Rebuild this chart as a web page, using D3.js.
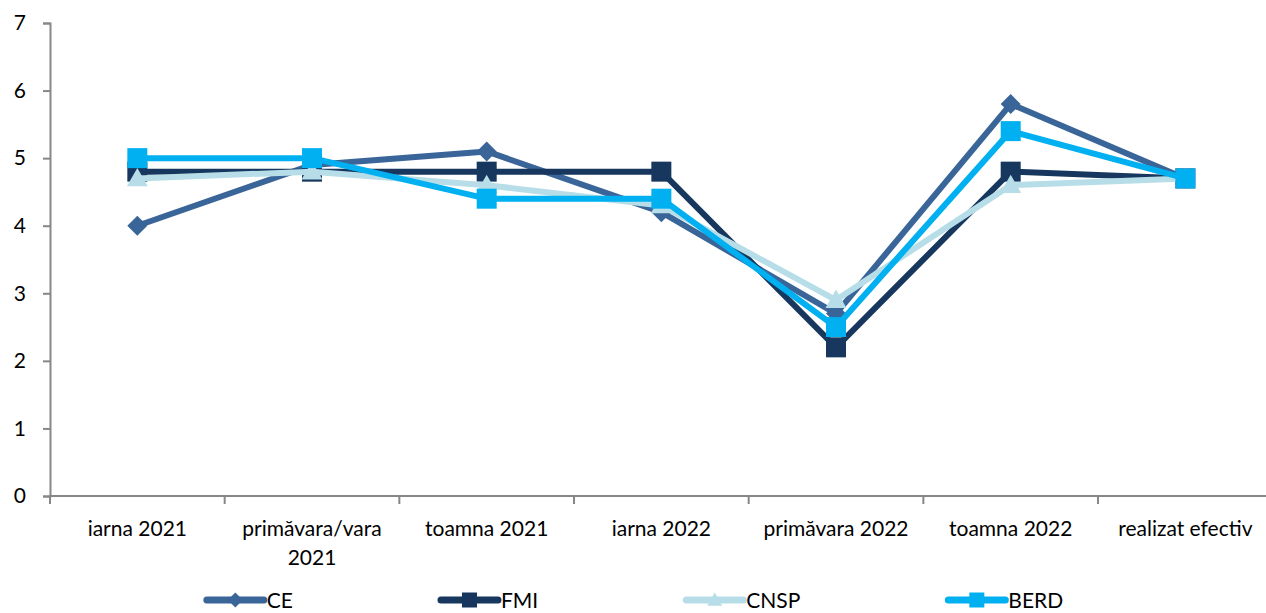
<!DOCTYPE html>
<html>
<head>
<meta charset="utf-8">
<script src="https://cdn.jsdelivr.net/npm/d3@7"></script>
<style>
  html, body { margin: 0; padding: 0; background: #fff; }
  svg { display: block; font-family: Lato, "Open Sans", sans-serif; }
</style>
</head>
<body>
<svg id="chart" width="1266" height="613"></svg>
<script>
// Forecast rounds (categories) and the value each institution gave in that round
const categories = ["iarna 2021", "primăvara/vara 2021", "toamna 2021", "iarna 2022", "primăvara 2022", "toamna 2022", "realizat efectiv"];
const seriesNames = ["CE", "FMI", "CNSP", "BERD"];
const ceValues   = [4.0, 4.9, 5.1, 4.2, 2.7, 5.8, 4.7];
const fmiValues  = [4.8, 4.8, 4.8, 4.8, 2.2, 4.8, 4.7];
const cnspValues = [4.7, 4.8, 4.6, 4.3, 2.9, 4.6, 4.7];
const berdValues = [5.0, 5.0, 4.4, 4.4, 2.5, 5.4, 4.7];
const yTicks = [0, 1, 2, 3, 4, 5, 6, 7];

const series = [
  { name: seriesNames[0], values: ceValues,   color: "#3A6599", marker: "diamond" },
  { name: seriesNames[1], values: fmiValues,  color: "#17375E", marker: "square" },
  { name: seriesNames[2], values: cnspValues, color: "#B7DEE8", marker: "triangle" },
  { name: seriesNames[3], values: berdValues, color: "#00B0F0", marker: "square" }
];

const svg = d3.select("#chart");
const axisColor = "#878787";
const fontSize = 21;

const x = d3.scaleBand().domain(categories).range([50, 1272.7]).paddingInner(0).paddingOuter(0);
const y = d3.scaleLinear().domain([0, 7]).range([496, 23]);
const cx = d => x(d) + x.bandwidth() / 2;

// Y axis
const yAxis = svg.append("g").attr("transform", "translate(50,0)")
  .call(d3.axisLeft(y).tickValues(yTicks).tickSize(7).tickPadding(17).tickFormat(d3.format("d")));
yAxis.select(".domain").attr("stroke", axisColor).attr("stroke-width", 2);
yAxis.selectAll(".tick line").attr("stroke", axisColor).attr("stroke-width", 2);
yAxis.selectAll(".tick text").attr("font-size", fontSize).attr("fill", "#000")
  .attr("font-family", "Lato, sans-serif");

// X axis: ticks sit on category boundaries
const boundaries = categories.map(c => x(c));
const xAxis = svg.append("g");
xAxis.append("line").attr("x1", 49).attr("x2", 1266).attr("y1", y(0)).attr("y2", y(0))
  .attr("stroke", axisColor).attr("stroke-width", 2);
xAxis.selectAll("line.tk").data(boundaries).join("line").attr("class", "tk")
  .attr("x1", d => d).attr("x2", d => d).attr("y1", y(0)).attr("y2", y(0) + 8)
  .attr("stroke", axisColor).attr("stroke-width", 2);

// Category labels, wrapped to the band width
const labels = xAxis.selectAll("text.cat").data(categories).join("text").attr("class", "cat")
  .attr("x", d => cx(d)).attr("y", 536).attr("text-anchor", "middle")
  .attr("font-size", fontSize).attr("fill", "#000");
labels.each(function(d) {
  const t = d3.select(this);
  const words = d.split(" ");
  const maxW = x.bandwidth() - 8;
  let line = [];
  let tspan = t.append("tspan").attr("x", cx(d)).attr("dy", 0);
  words.forEach(w => {
    line.push(w);
    tspan.text(line.join(" "));
    if (tspan.node().getComputedTextLength() > maxW && line.length > 1) {
      line.pop();
      tspan.text(line.join(" "));
      line = [w];
      tspan = t.append("tspan").attr("x", cx(d)).attr("dy", 29).text(w);
    }
  });
});

// Marker shapes
function markerPath(type, size) {
  const h = size / 2;
  if (type === "diamond") return `M0,${-h}L${h},0L0,${h}L${-h},0Z`;
  if (type === "square") return `M${-h},${-h}H${h}V${h}H${-h}Z`;
  if (type === "triangle") return `M0,${-h}L${h},${h * 0.75}L${-h},${h * 0.75}Z`;
  return "";
}

const line = d3.line().x((d, i) => cx(categories[i])).y(d => y(d));

// Each series: its line, then its markers
series.forEach(s => {
  const g = svg.append("g");
  g.append("path").datum(s.values).attr("d", line)
    .attr("fill", "none").attr("stroke", s.color).attr("stroke-width", 6)
    .attr("stroke-linejoin", "round").attr("stroke-linecap", "round");
  g.selectAll("path.mk").data(s.values).join("path").attr("class", "mk")
    .attr("transform", (d, i) => `translate(${cx(categories[i])},${y(d)})`)
    .attr("d", markerPath(s.marker, s.marker === "triangle" ? 21 : 20))
    .attr("fill", s.color);
});

// Legend, centred along the bottom
const legend = svg.append("g");
const symW = 57, symGap = 3, entryGap = 148, legendY = 600;
const items = legend.selectAll("g.item").data(series).join("g").attr("class", "item");
items.append("line").attr("x1", 0).attr("x2", symW).attr("y1", 0).attr("y2", 0)
  .attr("stroke", d => d.color).attr("stroke-width", 7).attr("stroke-linecap", "round");
items.append("path").attr("transform", `translate(${symW / 2},0)`)
  .attr("d", d => markerPath(d.marker, 15)).attr("fill", d => d.color);
items.append("text").attr("x", symW + symGap).attr("y", 8)
  .attr("font-size", fontSize).attr("fill", "#000").text(d => d.name);
const widths = [];
items.each(function() { widths.push(symW + symGap + d3.select(this).select("text").node().getComputedTextLength()); });
const total = d3.sum(widths) + entryGap * (widths.length - 1);
let xPos = 1266 / 2 - total / 2 + 2;
items.each(function(d, i) {
  d3.select(this).attr("transform", `translate(${xPos},${legendY})`);
  xPos += widths[i] + entryGap;
});
</script>
</body>
</html>
